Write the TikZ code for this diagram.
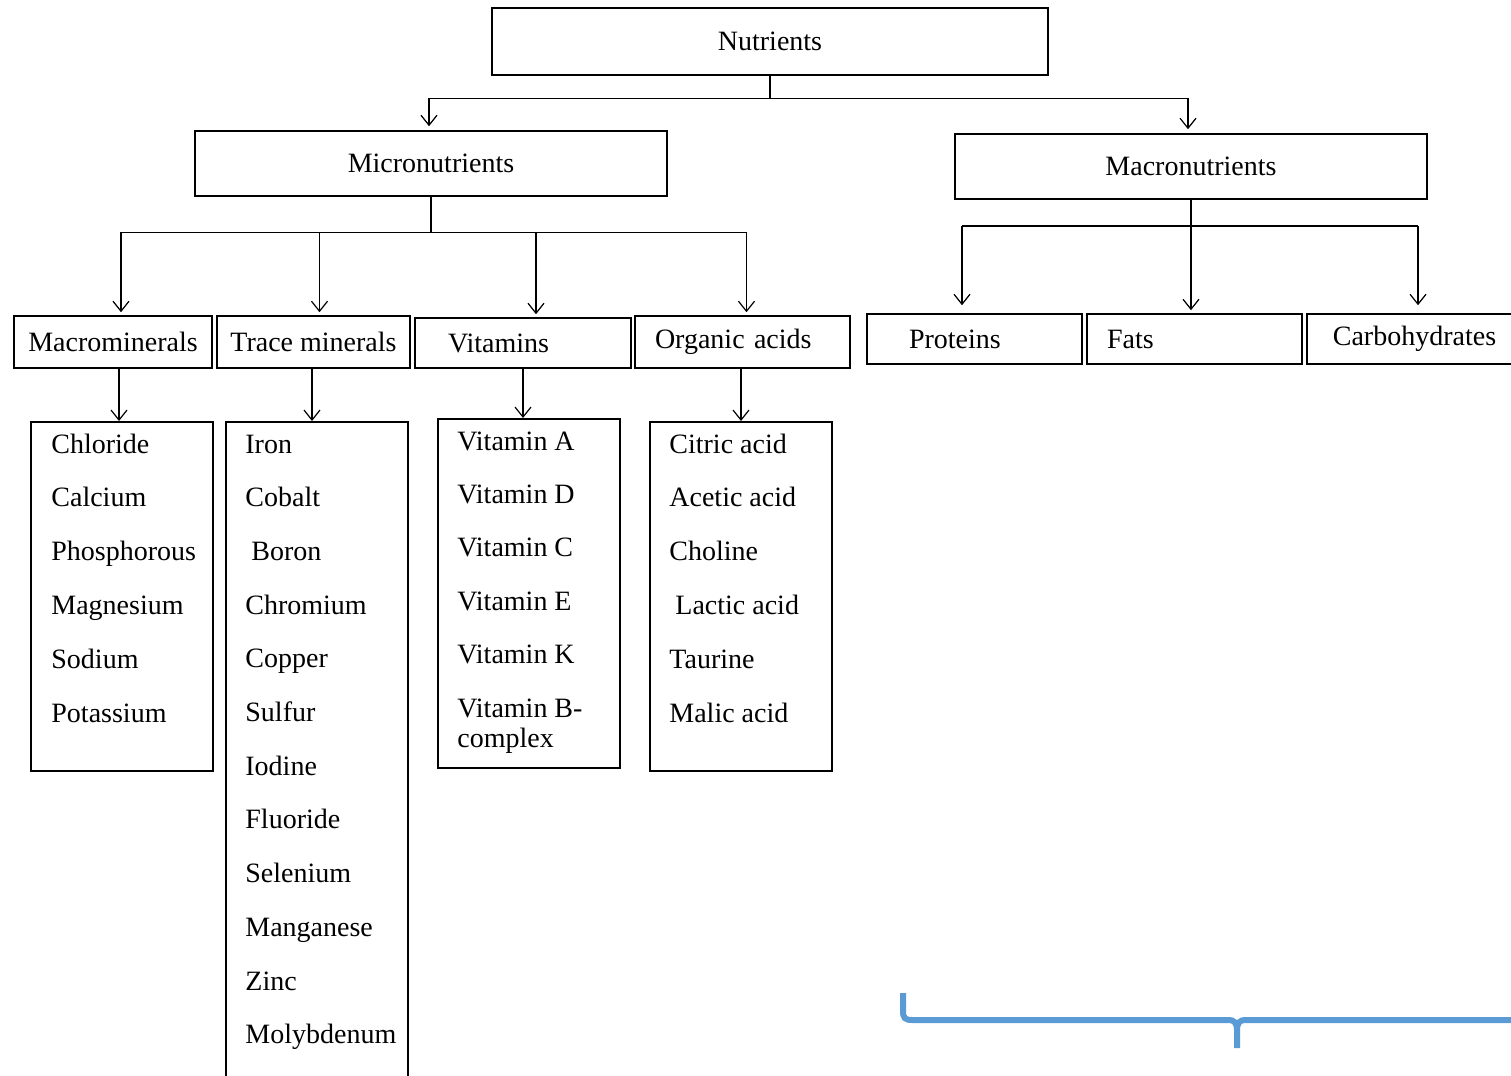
\documentclass[tikz,border=0pt]{standalone}
\usepackage{fontspec}
\setmainfont{Liberation Serif}
\usetikzlibrary{arrows.meta}

\definecolor{bracecol}{RGB}{91,155,213}

\tikzset{
  box/.style={draw, line width=0.8pt, rectangle, font=\fontsize{14}{16}\selectfont},
  topbox/.style={box, minimum width=236pt, minimum height=32.5pt},
  catbox/.style={box, minimum height=26pt},
  listbox/.style={draw, line width=0.8pt, rectangle, anchor=north west, minimum width=91pt},
  link/.style={line width=0.6pt},
  arr/.style={link, -{Straight Barb[length=5pt,width=8pt]}},
  item/.style={anchor=base west, inner sep=0pt, font=\fontsize{14}{16}\selectfont},
  brace/.style={draw=bracecol, line width=3pt},
}

\begin{document}
\begin{tikzpicture}[x=0.5pt, y=-0.5pt]
  \useasboundingbox (0,0) rectangle (1511,1076);

  % top levels
  \node[box, minimum width=278pt, minimum height=33.5pt] (nutr) at (770,41.5) {Nutrients};
  \node[topbox] (micro) at (431,163.5) {Micronutrients};
  \node[topbox] (macro) at (1191,166.5) {Macronutrients};

  \draw[arr] (nutr.south) -- ++(0,23) -| ([xshift=-1pt,yshift=2pt]micro.north);
  \draw[arr] (nutr.south) -- ++(0,23) -| ([xshift=-1.5pt,yshift=2pt]macro.north);

  % micronutrient groups
  \node[catbox, minimum width=99pt] (mmin) at (113,342) {Macrominerals};
  \node[catbox, minimum width=96.5pt] (trace) at (313.5,342) {Trace minerals};
  \node[catbox, minimum width=108pt, minimum height=25pt, text width=75pt, inner xsep=16.5pt, align=left] (vit) at (523,343) {Vitamins};
  \node[catbox, minimum width=107.5pt, text width=87.5pt, inner xsep=10pt, align=left] (org) at (742.5,342) {Organic acids};

  \foreach \n/\dx in {mmin/4,trace/3,vit/6.5,org/2}
    \draw[arr] (micro.south) -- ++(0,36) -| ([xshift=\dx pt,yshift=1.5pt]\n.north);

  % macronutrient groups
  \node[catbox, minimum width=107.5pt, minimum height=25pt, text width=65.5pt, inner xsep=21pt, align=left] (prot) at (974.5,339) {Proteins};
  \node[catbox, minimum width=107.5pt, minimum height=25pt, text width=87.5pt, inner xsep=10pt, align=left] (fats) at (1194.5,339) {Fats};
  \node[catbox, minimum width=107.5pt, minimum height=25pt] (carb) at (1414.5,339) {Carbohydrates};

  \draw[arr] (macro.south) -- ([xshift=-1.75pt,yshift=1.5pt]fats.north);
  \draw[link] ([xshift=-114.5pt]macro.south |- 0,226) -- ([xshift=113.5pt]macro.south |- 0,226);
  \draw[arr] ([xshift=-114.5pt]macro.south |- 0,226) -- ([xshift=-6.25pt,yshift=4pt]prot.north);
  \draw[arr] ([xshift=113.5pt]macro.south |- 0,226) -- ([xshift=1.75pt,yshift=4pt]carb.north);

  % lists
  \node[listbox, minimum height=174.5pt] (mminlist) at (30,421) {};
  \node[listbox, minimum height=334.5pt] (tracelist) at (225,421) {};
  \node[listbox, minimum height=174.5pt] (vitlist) at (437,418) {};
  \node[listbox, minimum height=174.5pt] (orglist) at (649,421) {};

  \draw[arr] ([xshift=3pt]mmin.south) -- ([xshift=3pt]mmin.south |- mminlist.north);
  \draw[arr] ([xshift=-0.75pt]trace.south) -- ([xshift=-0.75pt]trace.south |- tracelist.north);
  \draw[arr] (vit.south) -- (vit.south |- vitlist.north);
  \draw[arr] ([xshift=-0.75pt]org.south) -- ([xshift=-0.75pt]org.south |- orglist.north);

  \foreach \t [count=\i] in {Chloride,Calcium,Phosphorous,Magnesium,Sodium,Potassium}
    \node[item] (mmin-\i) at (51,{453+53.8*(\i-1)}) {\t};

  \foreach \t/\dx [count=\i] in {Iron/0,Cobalt/0,Boron/6,Chromium/0,Copper/0,Sulfur/0,
      Iodine/0,Fluoride/0,Selenium/0,Manganese/0,Zinc/0,Molybdenum/0}
    \node[item] (trace-\i) at ({245+\dx},{453+53.7*(\i-1)}) {\t};

  \foreach \t [count=\i] in {Vitamin A,Vitamin D,Vitamin C,Vitamin E,Vitamin K,Vitamin B-}
    \node[item] (vit-\i) at (457,{450+53.4*(\i-1)}) {\t};
  \node[item] (vit-7) at (457,747) {complex};

  \foreach \t/\dx [count=\i] in {Citric acid/0,Acetic acid/0,Choline/0,Lactic acid/6,Taurine/0,Malic acid/0}
    \node[item] (org-\i) at ({669+\dx},{453+53.8*(\i-1)}) {\t};

  % blue brace
  \draw[brace] (903,993) -- (903,1011) .. controls (903,1018) and (905,1020) .. (912,1020)
    -- (1228,1020) .. controls (1235,1020) and (1237,1023) .. (1237,1031) -- (1237,1048);
  \draw[brace] (1237,1031) .. controls (1237,1023) and (1239,1020) .. (1246,1020) -- (1520,1020);
\end{tikzpicture}
\end{document}
